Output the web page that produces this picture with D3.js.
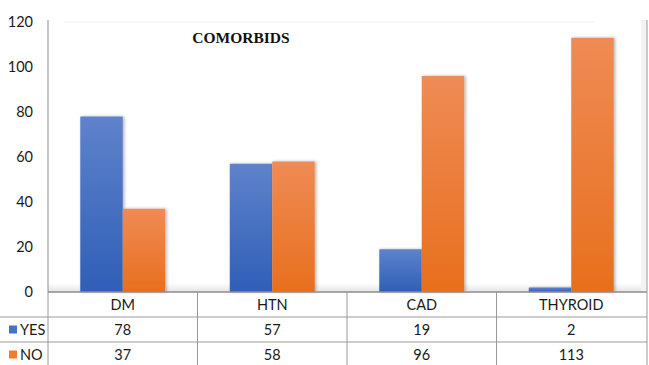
<!DOCTYPE html>
<html>
<head>
<meta charset="utf-8">
<script src="https://cdnjs.cloudflare.com/ajax/libs/d3/7.8.5/d3.min.js"></script>
<style>
  body { margin: 0; background: #fff; }
  svg { display: block; }
  text { font-family: Lato, "Open Sans", sans-serif; fill: #1a1a1a; }
</style>
</head>
<body>
<svg id="chart" width="649" height="365"></svg>
<script>
// chart data
var categories = ["DM", "HTN", "CAD", "THYROID"];
var seriesNames = ["YES", "NO"];
var yesValues = [78, 57, 19, 2];
var noValues = [37, 58, 96, 113];
var yTicks = [0, 20, 40, 60, 80, 100, 120];

var svg = d3.select("#chart");

var plotL = 48, plotR = 647, plotT = 22, plotB = 292;
var rowH = 25;

var x = d3.scaleBand()
    .domain(categories)
    .range([plotL, plotR - 1]);

var x1 = d3.scaleBand()
    .domain(seriesNames)
    .range([0, x.bandwidth()])
    .paddingOuter(0.76);

var y = d3.scaleLinear()
    .domain([0, 120])
    .range([plotB, plotT]);

var defs = svg.append("defs");
function grad(id, c1, c2) {
  var g = defs.append("linearGradient").attr("id", id)
      .attr("x1", 0).attr("y1", 0).attr("x2", 0).attr("y2", 1);
  g.append("stop").attr("offset", "0%").attr("stop-color", c1);
  g.append("stop").attr("offset", "100%").attr("stop-color", c2);
}
grad("g-yes", "#5f82cb", "#2f5fb7");
grad("g-no", "#ef8b55", "#e86f1d");
grad("g-floor", "#ffffff", "#e4e4e4");
var shadow = defs.append("filter").attr("id", "shadow")
    .attr("x", "-20%").attr("y", "-20%").attr("width", "140%").attr("height", "140%");
shadow.append("feDropShadow").attr("dx", 1.5).attr("dy", 0).attr("stdDeviation", 1.5)
    .attr("flood-color", "#000").attr("flood-opacity", 0.3);

var color = { YES: "url(#g-yes)", NO: "url(#g-no)" };
var solid = { YES: "#4472c4", NO: "#ed7d31" };

// faint top line of the plot area
svg.append("line")
    .attr("x1", 64).attr("x2", 594).attr("y1", plotT).attr("y2", plotT)
    .attr("stroke", "#eeeeee");

// floor shading near the baseline
svg.append("rect")
    .attr("x", plotL).attr("y", plotB - 9)
    .attr("width", plotR - plotL).attr("height", 9)
    .attr("fill", "url(#g-floor)");

// right bevel of the plot area
svg.append("rect")
    .attr("x", plotR - 6).attr("y", plotT - 2)
    .attr("width", 6).attr("height", plotB - plotT + 2)
    .attr("fill", "#f3f3f3");

// y axis labels
svg.selectAll(".ytick")
  .data(yTicks)
  .enter().append("text")
    .attr("class", "ytick")
    .attr("x", 33)
    .attr("y", function(d) { return y(d); })
    .attr("dy", "0.35em")
    .attr("text-anchor", "end")
    .style("font-size", "14.5px")
    .text(function(d) { return d; });

// bars
var rows = categories.map(function(c, i) {
  return { cat: c, values: [{ key: "YES", v: yesValues[i] }, { key: "NO", v: noValues[i] }] };
});

var group = svg.selectAll(".cat")
  .data(rows)
  .enter().append("g")
    .attr("class", "cat")
    .attr("transform", function(d) { return "translate(" + x(d.cat) + ",0)"; });

group.selectAll("rect")
  .data(function(d) { return d.values; })
  .enter().append("rect")
    .attr("x", function(d) { return x1(d.key); })
    .attr("y", function(d) { return y(d.v); })
    .attr("width", x1.bandwidth())
    .attr("height", function(d) { return plotB - y(d.v); })
    .attr("fill", function(d) { return color[d.key]; })
    .attr("filter", "url(#shadow)");

// title
svg.append("text")
    .attr("x", 241)
    .attr("y", 43)
    .attr("text-anchor", "middle")
    .style("font-family", "'Liberation Serif', 'Times New Roman', serif")
    .style("font-weight", "bold")
    .style("font-size", "15.5px")
    .style("fill", "#111")
    .text("COMORBIDS");

// y axis line
svg.append("line")
    .attr("x1", plotL).attr("x2", plotL).attr("y1", plotT - 2).attr("y2", plotB)
    .attr("stroke", "#8c8c8c");

// data table
var lineColor = "#9a9a9a";
svg.append("line")
    .attr("x1", plotL).attr("x2", plotR).attr("y1", plotB).attr("y2", plotB)
    .attr("stroke", "#8c8c8c").attr("stroke-width", 1.5);
[1, 2].forEach(function(r) {
  svg.append("line")
      .attr("x1", 0).attr("x2", plotR)
      .attr("y1", plotB + r * rowH).attr("y2", plotB + r * rowH)
      .attr("stroke", lineColor);
});
categories.forEach(function(c) {
  svg.append("line")
      .attr("x1", x(c)).attr("x2", x(c))
      .attr("y1", plotB).attr("y2", 365)
      .attr("stroke", lineColor);
});
svg.append("line")
    .attr("x1", plotR).attr("x2", plotR).attr("y1", plotT - 2).attr("y2", 365)
    .attr("stroke", lineColor);

// header row (category names)
svg.selectAll(".catlabel")
  .data(categories)
  .enter().append("text")
    .attr("class", "catlabel")
    .attr("x", function(d) { return x(d) + x.bandwidth() / 2; })
    .attr("y", plotB + rowH / 2)
    .attr("dy", "0.35em")
    .attr("text-anchor", "middle")
    .style("font-size", "14.5px")
    .text(function(d) { return d; });

// value rows
var tableRows = [
  { key: "YES", values: yesValues },
  { key: "NO", values: noValues }
];
tableRows.forEach(function(row, r) {
  var cy = plotB + (r + 1) * rowH + rowH / 2;
  svg.append("rect")
      .attr("x", 9).attr("y", cy - 4)
      .attr("width", 8).attr("height", 8)
      .attr("fill", solid[row.key]);
  svg.append("text")
      .attr("x", 20).attr("y", cy)
      .attr("dy", "0.35em")
      .style("font-size", "14.5px")
      .text(row.key);
  svg.selectAll(".val-" + row.key)
    .data(row.values)
    .enter().append("text")
      .attr("x", function(d, i) { return x(categories[i]) + x.bandwidth() / 2; })
      .attr("y", cy)
      .attr("dy", "0.35em")
      .attr("text-anchor", "middle")
      .style("font-size", "14.5px")
      .text(function(d) { return d; });
});
</script>
</body>
</html>
